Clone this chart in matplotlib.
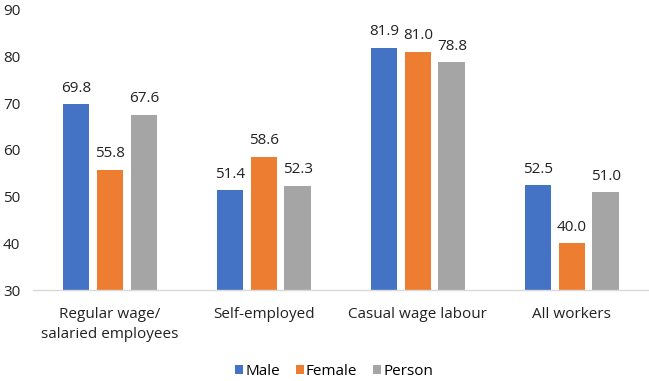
import matplotlib.pyplot as plt
import numpy as np

plt.rcParams['font.family'] = ['Open Sans', 'DejaVu Sans']

categories = ['Regular wage/\nsalaried employees', 'Self-employed', 'Casual wage labour', 'All workers']
male = [69.8, 51.4, 81.9, 52.5]
female = [55.8, 58.6, 81.0, 40.0]
person = [67.6, 52.3, 78.8, 51.0]
series = ['Male', 'Female', 'Person']
colors = ['#4472C4', '#ED7D31', '#A5A5A5']

fig = plt.figure(figsize=(6.49, 3.81), dpi=100)
ax = fig.add_axes([0.0508, 0.2388, 0.949, 0.735])

x = np.arange(len(categories))
w = 0.173
step = 0.22
for i, (vals, name) in enumerate(zip([male, female, person], series)):
    pos = x + (i - 1) * step
    ax.bar(pos, vals, width=w, bottom=0, color=colors[i], label=name)
    for p, v in zip(pos, vals):
        ax.annotate('%.1f' % v, (p, v), xytext=(0, 9), textcoords='offset points',
                    ha='center', va='baseline', fontsize=11, color='#222222')

ax.set_ylim(30, 90)
ax.set_xlim(-0.5, 3.5)
ax.set_yticks(range(30, 91, 10))
ax.set_xticks(x)
ax.set_xticklabels(categories, fontsize=11, color='#222222', linespacing=1.45)
ax.tick_params(axis='y', labelsize=11, colors='#222222', length=0, pad=9)
ax.tick_params(axis='x', length=0, pad=12)
for s in ['top', 'right', 'left']:
    ax.spines[s].set_visible(False)
ax.spines['bottom'].set_color('#D9D9D9')
ax.spines['bottom'].set_linewidth(1)

ax.legend(loc='upper center', bbox_to_anchor=(0.489, -0.215), ncol=3, frameon=False,
          fontsize=11, handlelength=0.5, handleheight=0.5, handletextpad=0.15, columnspacing=1.05)

fig.savefig('out.png', dpi=100)
